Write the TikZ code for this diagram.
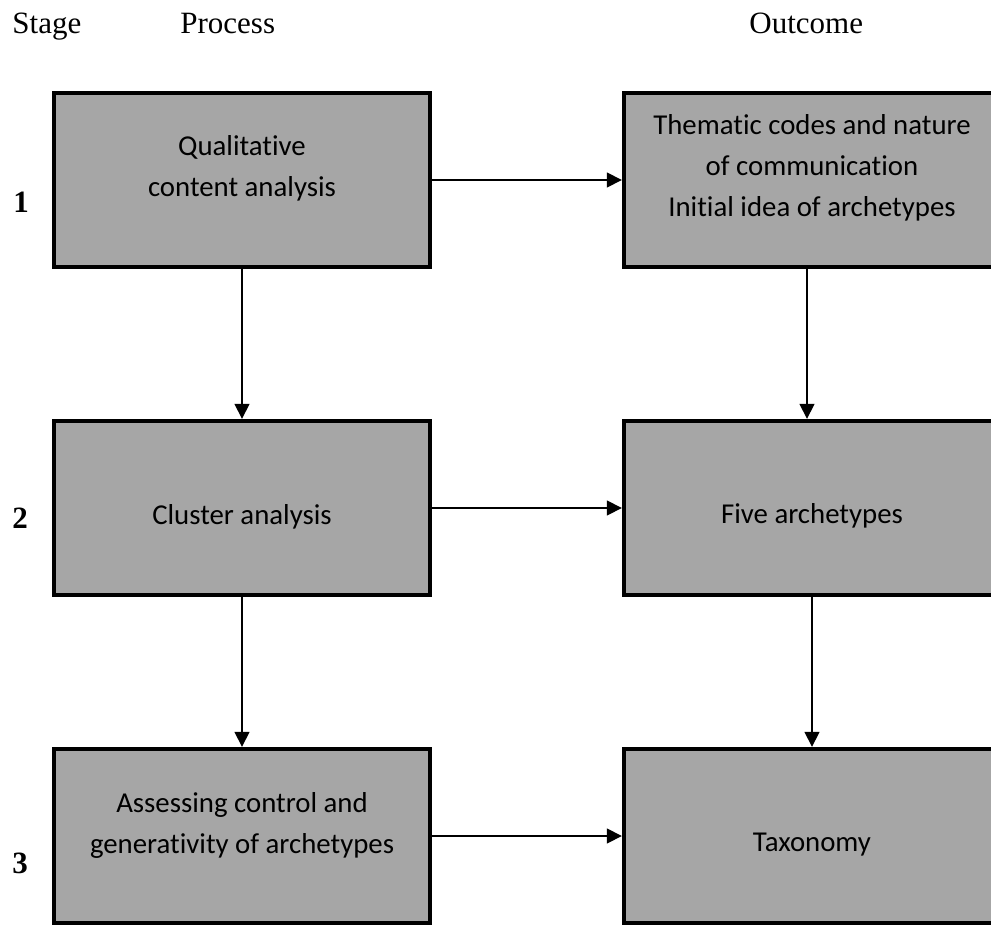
\documentclass[tikz,border=0pt]{standalone}
\usepackage{fontspec}
\setmainfont{Liberation Serif}
\newfontfamily\boxfont[Ligatures=NoCommon]{Carlito}
\usetikzlibrary{arrows.meta,calc,positioning}
\definecolor{boxgray}{HTML}{A6A6A6}

\begin{document}
\begin{tikzpicture}[x = 0.5pt, y = -0.5pt,
  stagebox/.style = {draw, line width = 2.2pt, fill = boxgray, minimum width = 188pt, minimum height = 87pt, inner sep = 0pt},
  boxtext/.style = {align = center, inner sep = 0pt, font = \boxfont\fontsize{14.4}{20.5}\selectfont},
  head/.style = {anchor = base west, inner sep = 0pt, font = \fontsize{15.5}{18}\selectfont},
  num/.style = {head, font = \bfseries\fontsize{15.5}{18}\selectfont},
  arr/.style = {-{Triangle[length = 7.5pt, width = 7.5pt]}, line width = 0.8pt}]
\useasboundingbox (0,0) rectangle (991,926);
% column heads and stage numbers
\node[head] (stage) at (12,33) {Stage};
\node[head] (process) at (180,33) {Process};
\node[head] (outcome) at (749,33) {Outcome};
\node[num] (n1) at (13,212) {1};
\node[num] (n2) at (12,528) {2};
\node[num] (n3) at (12,873) {3};
% boxes
\node[stagebox] (qca) at (242,180) {};
\node[stagebox] (codes) at (812,180) {};
\node[stagebox] (cluster) at (242,508) {};
\node[stagebox] (five) at (812,508) {};
\node[stagebox] (assess) at (242,836) {};
\node[stagebox] (taxo) at (812,836) {};
\node[boxtext] (qcaT) at ($ (qca) + (0,-12) $) {Qualitative\\content analysis};
\node[boxtext] (codesT) at ($ (codes) + (0,-12) $) {Thematic codes and nature\\of communication\\Initial idea of archetypes};
\node[boxtext] (clusterT) at ($ (cluster) + (0,9) $) {Cluster analysis};
\node[boxtext] (fiveT) at ($ (five) + (0,8) $) {Five archetypes};
\node[boxtext] (assessT) at ($ (assess) + (0,-11) $) {Assessing control and\\generativity of archetypes};
\node[boxtext] (taxoT) at ($ (taxo) + (0,9) $) {Taxonomy};
% arrows
\draw[arr] (qca) -- (codes);
\draw[arr] (cluster) -- (five);
\draw[arr] (assess) -- (taxo);
\draw[arr] (qca) -- (cluster);
\draw[arr] (cluster) -- (assess);
\draw[arr] ([xshift=-2.5pt]codes.south) -- ([xshift=-2.5pt]five.north);
\draw[arr] (five) -- (taxo);
\end{tikzpicture}
\end{document}
